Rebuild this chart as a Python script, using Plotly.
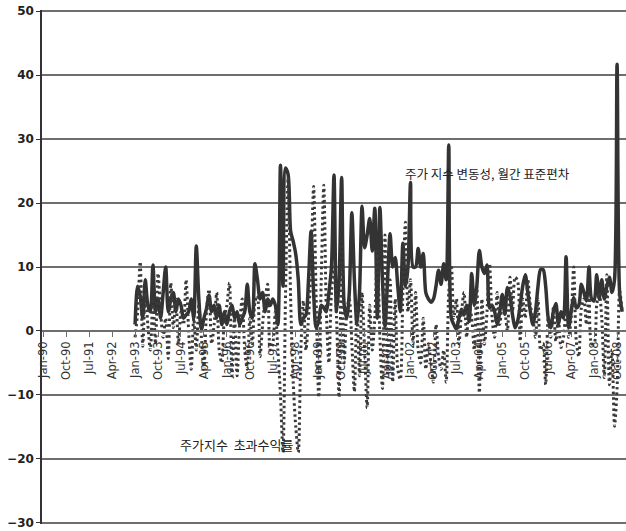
import pandas as pd
import plotly.graph_objects as go

# Monthly categories Jan-1990 .. Dec-2008
months = pd.date_range("1990-01-01", "2008-12-01", freq="MS").strftime("%b-%y").tolist()

# Tick labels shown on the category axis (every 9 months)
tick_labels = ["Jan-90", "Oct-90", "Jul-91", "Apr-92", "Jan-93", "Oct-93", "Jul-94",
               "Apr-95", "Jan-96", "Oct-96", "Jul-97", "Apr-98", "Jan-99", "Oct-99",
               "Jul-00", "Apr-01", "Jan-02", "Oct-02", "Jul-03", "Apr-04", "Jan-05",
               "Oct-05", "Jul-06", "Apr-07", "Jan-08", "Oct-08"]
y_ticks = [-30, -20, -10, 0, 10, 20, 30, 40, 50]

# Stock index volatility, monthly standard deviation (data begin Jan-93)
vol_1993 = [1.0, 7.0, 5.5, 2.0, 8.0, 4.0, 3.0, 10.3, 3.0, 5.0, 2.0, 6.0]
vol_1994 = [10.0, 3.0, 5.0, 6.0, 3.0, 5.0, 4.0, 2.0, 2.5, 3.0, 5.0, 2.0]
vol_1995 = [13.3, 5.0, 0.2, 2.0, 3.5, 5.6, 3.0, 4.0, 2.0, 4.0, 1.0, 3.0]
vol_1996 = [1.0, 3.0, 4.0, 2.0, 3.0, 1.0, 2.0, 3.0, 7.3, 3.0, 2.0, 10.5]
vol_1997 = [8.0, 5.0, 6.0, 3.0, 5.0, 4.0, 5.0, 4.0, 1.0, 25.9, 7.0, 25.5]
vol_1998 = [24.5, 15.6, 14.0, 12.0, 8.0, 1.0, 2.0, 2.5, 8.0, 15.6, 6.0, 0.5]
vol_1999 = [1.5, 4.0, 3.6, 3.0, 6.0, 10.0, 24.4, 3.0, 8.0, 24.0, 4.0, 2.0]
vol_2000 = [6.0, 18.5, 8.0, 1.0, 6.0, 19.5, 13.0, 15.0, 17.6, 12.5, 19.2, 2.0]
vol_2001 = [19.3, 8.0, 0.7, 8.0, 15.2, 10.0, 11.5, 7.0, 3.0, 13.7, 7.0, 10.0]
vol_2002 = [23.2, 10.0, 10.0, 12.9, 10.0, 12.1, 6.0, 5.0, 4.5, 5.0, 7.0, 9.5]
vol_2003 = [7.3, 10.5, 8.0, 29.1, 2.0, 1.0, 0.3, 2.0, 3.4, 2.5, 4.0, 1.5]
vol_2004 = [9.0, 4.0, 7.0, 12.6, 10.0, 9.0, 10.3, 3.6, 4.0, 3.0, 1.0, 3.0]
vol_2005 = [5.7, 2.6, 6.8, 5.5, 2.5, 0.5, 1.5, 4.0, 7.0, 8.8, 6.0, 3.0]
vol_2006 = [1.0, 3.0, 7.0, 9.6, 9.6, 7.0, 2.0, 0.5, 3.0, 4.3, 1.0, 3.0]
vol_2007 = [2.0, 11.6, 0.5, 3.0, 5.2, 3.6, 4.0, 7.3, 6.0, 4.7, 10.0, 5.0]
vol_2008 = [4.7, 8.8, 5.0, 8.0, 5.0, 7.0, 8.4, 6.0, 8.0, 41.7, 6.0, 3.0]

# Stock index excess return (data begin Jan-93)
ret_1993 = [-1.0, 3.0, 10.8, -2.4, 6.0, 1.0, -3.0, 5.0, -2.0, 9.0, 3.0, -1.0]
ret_1994 = [2.0, -4.3, 7.5, 0.5, 5.0, -2.0, 3.0, 1.0, 8.0, 0.0, -6.0, 2.0]
ret_1995 = [-3.0, 4.0, -1.0, -6.0, 3.0, 6.5, -2.0, 1.0, 6.0, -3.0, -5.0, 2.0]
ret_1996 = [4.0, 7.5, -7.0, 2.0, -7.0, 1.0, 5.0, -3.0, -6.0, 2.0, -2.0, 4.5]
ret_1997 = [5.5, -4.0, 1.0, 5.0, 7.3, -3.0, -2.0, 3.0, -3.0, -10.0, -19.0, 6.0]
ret_1998 = [24.0, 5.0, -8.0, -15.0, -19.0, -3.0, 4.7, -3.0, 2.0, 10.0, 22.6, 5.0]
ret_1999 = [-10.4, 8.0, 22.8, 3.0, -5.0, 6.0, 10.0, 2.0, -10.4, 14.0, -5.0, 3.0]
ret_2000 = [5.0, -2.0, -9.5, 4.0, -7.0, 6.0, -3.0, -12.0, 4.0, -3.0, 2.0, 12.5]
ret_2001 = [-1.0, -9.0, 15.0, -7.0, 8.0, -8.0, 5.0, -6.0, -7.6, 6.0, 17.0, 3.0]
ret_2002 = [8.0, -2.0, 6.0, -3.0, -5.0, 2.0, -6.0, -2.0, -5.0, -8.0, 1.0, -4.0]
ret_2003 = [-6.0, -3.0, -8.0, 6.0, 10.3, 2.0, 5.0, -2.0, 3.0, 6.0, -1.0, 4.0]
ret_2004 = [2.0, -3.0, 7.0, -9.7, 5.0, -2.1, 3.0, 10.5, 2.0, -1.0, 6.0, 1.0]
ret_2005 = [4.0, 3.0, 0.0, 8.4, 3.0, 8.4, 7.8, -1.6, 5.0, 2.0, 8.0, 4.0]
ret_2006 = [2.0, -1.0, 5.0, -3.0, -2.0, -8.4, 2.0, -1.0, 3.6, -1.6, 2.0, -2.6]
ret_2007 = [-1.0, 3.0, -1.0, 2.0, 10.0, -1.6, -4.0, 3.6, 5.0, 1.0, 5.6, -2.0]
ret_2008 = [-2.0, 4.0, 6.0, 2.0, -7.3, 8.8, -8.4, -3.0, -14.9, -9.0, 6.3, 3.0]

vol_years = [vol_1993, vol_1994, vol_1995, vol_1996, vol_1997, vol_1998, vol_1999, vol_2000,
             vol_2001, vol_2002, vol_2003, vol_2004, vol_2005, vol_2006, vol_2007, vol_2008]
ret_years = [ret_1993, ret_1994, ret_1995, ret_1996, ret_1997, ret_1998, ret_1999, ret_2000,
             ret_2001, ret_2002, ret_2003, ret_2004, ret_2005, ret_2006, ret_2007, ret_2008]

lead = [None] * 36  # Jan-90 .. Dec-92: no data
volatility = lead + [v for yr in vol_years for v in yr]
excess_return = lead + [v for yr in ret_years for v in yr]

LINE = "#333333"
GRID = "#6e6e6e"

fig = go.Figure()
fig.add_trace(go.Scatter(
    x=months, y=volatility, mode="lines", name="주가 지수 변동성, 월간 표준편차",
    line=dict(color=LINE, width=3.5, shape="spline", smoothing=0.8),
    connectgaps=False,
))
fig.add_trace(go.Scatter(
    x=months, y=excess_return, mode="lines", name="주가지수 초과수익률",
    line=dict(color="#3a3a3a", width=3, dash="2.5px,3px", shape="spline", smoothing=0.8),
    connectgaps=False,
))

fig.add_annotation(x=months[174], y=24.6, xref="x", yref="y", text="주가 지수 변동성, 월간 표준편차",
                   showarrow=False, xanchor="center", yanchor="middle",
                   font=dict(family="Noto Sans CJK KR", size=12.5, color="#222222"))
fig.add_annotation(x=months[76], y=-17.7, xref="x", yref="y", text="주가지수  초과수익률",
                   showarrow=False, xanchor="center", yanchor="middle",
                   font=dict(family="Noto Sans CJK KR", size=13, color="#222222"))

fig.update_layout(
    width=626, height=531,
    margin=dict(l=42, r=0, t=10, b=7, autoexpand=False),
    paper_bgcolor="white", plot_bgcolor="white",
    showlegend=False,
    xaxis=dict(
        type="category",
        categoryorder="array", categoryarray=months,
        range=[-0.5, 228.5],
        tickmode="array", tickvals=tick_labels, ticktext=tick_labels,
        tickangle=-90,
        ticks="outside", ticklen=5, tickwidth=1.2, tickcolor=GRID,
        showline=True, linecolor=GRID, linewidth=1.5,
        showgrid=False, zeroline=False,
        anchor="free", position=0.3754,
        automargin=False,
        tickfont=dict(family="DejaVu Sans", size=11.5, color="#333333"),
    ),
    yaxis=dict(
        range=[-30.2, 50.2], tickmode="array", tickvals=y_ticks,
        showgrid=True, gridcolor=GRID, gridwidth=1.5,
        zeroline=False,
        showline=True, linecolor="#333333", linewidth=1.5,
        ticks="outside", ticklen=4, tickcolor="#333333",
        automargin=False, ticklabeloverflow="allow",
        tickfont=dict(family="DejaVu Sans", size=12, color="#222222", weight="bold"),
    ),
)

fig.write_html("out.html", config={"displayModeBar": False},
               post_script="document.body.style.margin='0px';")
